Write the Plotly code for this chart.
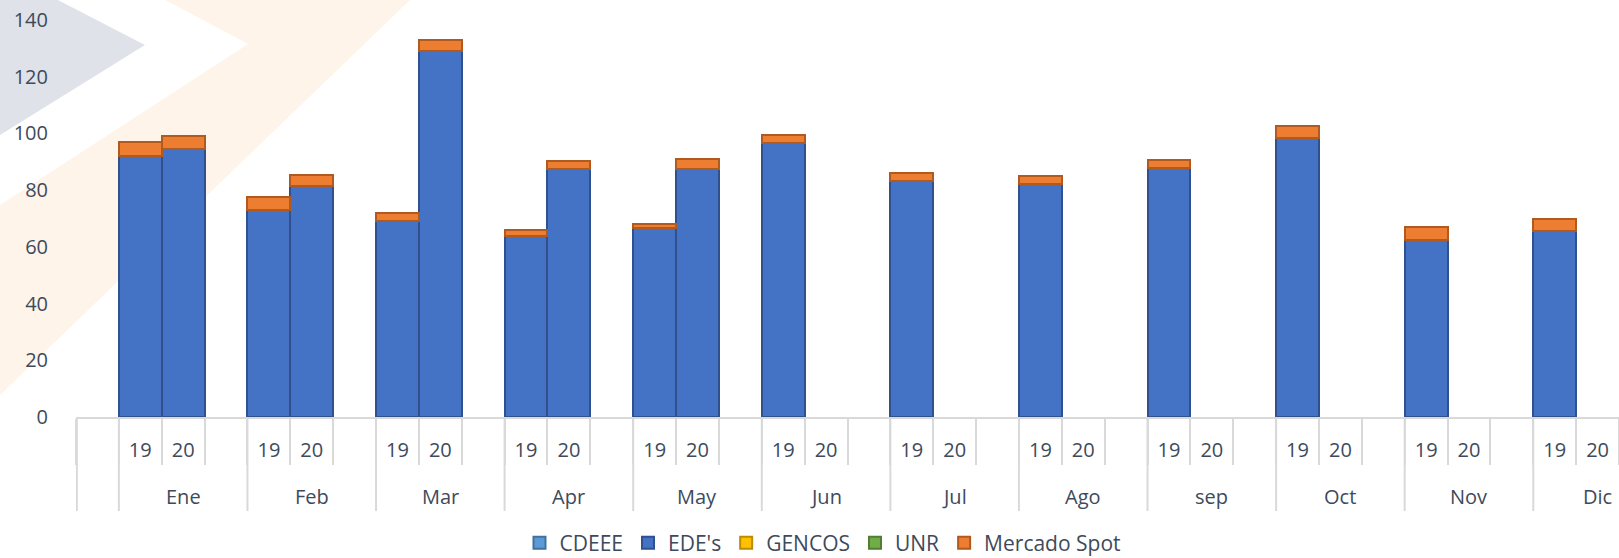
import plotly.graph_objects as go

# ---------------- data ----------------
months = ["Ene", "Feb", "Mar", "Apr", "May", "Jun", "Jul", "Ago", "sep", "Oct", "Nov", "Dic"]
years = ["19", "20"]

ede_19 = [91.9, 72.9, 69.2, 63.7, 66.7, 96.6, 83.4, 82.3, 87.8, 98.4, 62.5, 65.7]
ede_20 = [94.5, 81.6, 129.2, 87.6, 87.6, None, None, None, None, None, None, None]
spot_19 = [5.0, 4.6, 2.8, 2.1, 1.4, 2.7, 2.7, 2.7, 2.7, 4.2, 4.6, 4.1]
spot_20 = [4.5, 3.6, 3.8, 2.6, 3.4, None, None, None, None, None, None, None]
# series shown only in the legend (no visible values)
cdeee_19 = [None, None, None, None, None, None, None, None, None, None, None, None]
cdeee_20 = [None, None, None, None, None, None, None, None, None, None, None, None]
gencos_19 = [None, None, None, None, None, None, None, None, None, None, None, None]
gencos_20 = [None, None, None, None, None, None, None, None, None, None, None, None]
unr_19 = [None, None, None, None, None, None, None, None, None, None, None, None]
unr_20 = [None, None, None, None, None, None, None, None, None, None, None, None]

y_ticks = [0, 20, 40, 60, 80, 100, 120, 140]

# ---------------- layout helpers ----------------
W, H = 1619, 558
ML, MR, MT, MB = 76, 0, 20, 141
PW, PH = W - ML - MR, H - MT - MB
SLOTS = 3  # 19, 20, blank per month


def slot(i, j):
    return 1 + SLOTS * i + j


xs, ticktext = [], []
for i in range(len(months)):
    for j in range(len(years)):
        xs.append(slot(i, j))
        ticktext.append(years[j])


def interleave(a, b):
    out = []
    for u, v in zip(a, b):
        out += [u, v]
    return out


TEXT = "#3E4A5C"
FONT = "Open Sans"

series = [
    ("CDEEE", interleave(cdeee_19, cdeee_20), "#5B9BD5", "#41719C"),
    ("EDE's", interleave(ede_19, ede_20), "#4472C4", "#2F528F"),
    ("GENCOS", interleave(gencos_19, gencos_20), "#FFC000", "#BC8C00"),
    ("UNR", interleave(unr_19, unr_20), "#70AD47", "#507E32"),
    ("Mercado Spot", interleave(spot_19, spot_20), "#ED7D31", "#B05A1F"),
]

fig = go.Figure()
for name, vals, fill, line in series:
    fig.add_trace(go.Bar(
        x=xs, y=vals, name=name, width=1.0,
        marker=dict(color=fill, line=dict(color=line, width=2)),
    ))

x_lo, x_hi = -0.5, 35.5


def px_to_paper(X, Y):
    return (X - ML) / PW, (H - MB - Y) / PH


def poly(points):
    pts = [px_to_paper(X, Y) for X, Y in points]
    return "M" + " L".join(f"{a:.4f},{b:.4f}" for a, b in pts) + " Z"


shapes = [
    # watermark decoration
    dict(type="path", xref="paper", yref="paper", layer="below",
         path=poly([(0, 0), (58, 0), (145, 45), (0, 135)]),
         fillcolor="#DFE2E8", line=dict(width=0)),
    dict(type="path", xref="paper", yref="paper", layer="below",
         path=poly([(165, 0), (410, 0), (0, 395), (0, 205), (248, 44)]),
         fillcolor="#FEF4EA", line=dict(width=0)),
]

# group dividers (full height of both label rows)
div_bottom = -(511 - (H - MB)) / PH
bounds = [x_lo] + [slot(i, 0) - 0.5 for i in range(len(months))]
for b in bounds:
    xb = max(b, x_lo + 0.02)
    shapes.append(dict(type="line", xref="x", yref="paper", layer="above",
                       x0=xb, x1=xb, y0=0, y1=div_bottom,
                       line=dict(color="#D9D9D9", width=2)))

annotations = []
for i, m in enumerate(months):
    annotations.append(dict(
        x=slot(i, 1), y=-(496 - (H - MB)) / PH, xref="x", yref="paper",
        text=m, showarrow=False, xanchor="center", yanchor="middle",
        font=dict(family=FONT, size=20, color=TEXT)))

minor_vals = [x_lo + k for k in range(0, 37)]

fig.update_layout(
    template="none",
    width=W, height=H,
    margin=dict(l=ML, r=MR, t=MT, b=MB, autoexpand=False),
    paper_bgcolor="white", plot_bgcolor="rgba(0,0,0,0)",
    barmode="stack", bargap=0,
    font=dict(family=FONT, size=20, color=TEXT),
    shapes=shapes, annotations=annotations,
    showlegend=True,
    legend=dict(orientation="h", x=(823 - ML) / PW, xanchor="center",
                y=-(543 - (H - MB)) / PH, yanchor="middle",
                traceorder="normal", font=dict(family=FONT, size=21, color=TEXT),
                itemwidth=30, tracegroupgap=0, bgcolor="rgba(0,0,0,0)"),
    xaxis=dict(range=[x_lo, x_hi], tickmode="array", tickvals=xs, ticktext=ticktext,
               ticks="", showgrid=False, zeroline=False, automargin=False,
               showline=True, linecolor="#D9D9D9", linewidth=2,
               ticklabelstandoff=14,
               tickfont=dict(family=FONT, size=20, color=TEXT),
               minor=dict(tickmode="array", tickvals=minor_vals, ticks="outside",
                          ticklen=46, tickwidth=2, tickcolor="#D9D9D9", showgrid=False)),
    yaxis=dict(range=[0, 140], tickmode="array", tickvals=y_ticks,
               showgrid=False, zeroline=False, showline=False, ticks="",
               automargin=False, ticklabelstandoff=27,
               tickfont=dict(family=FONT, size=20, color=TEXT)),
)

fig.write_html(
    "out.html",
    config={"displayModeBar": False},
    post_script="document.body.style.margin='0px';document.body.style.overflow='hidden';",
)
